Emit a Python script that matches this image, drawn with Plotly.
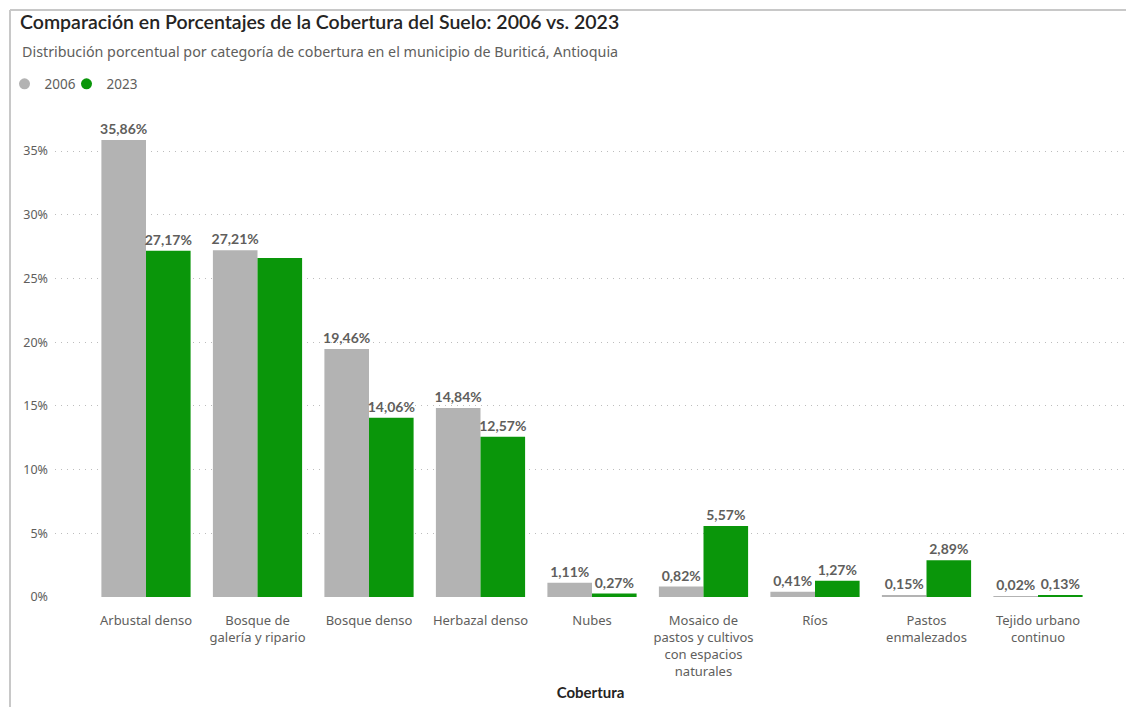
import plotly.graph_objects as go

categories = ["Arbustal denso", "Bosque de<br>galería y ripario", "Bosque denso", "Herbazal denso",
              "Nubes", "Mosaico de<br>pastos y cultivos<br>con espacios<br>naturales", "Ríos",
              "Pastos<br>enmalezados", "Tejido urbano<br>continuo"]
values_2006 = [35.86, 27.21, 19.46, 14.84, 1.11, 0.82, 0.41, 0.15, 0.02]
values_2023 = [27.17, 26.60, 14.06, 12.57, 0.27, 5.57, 1.27, 2.89, 0.13]
hidden_2023_labels = [1]  # label not displayed in the original (overlap)
y_ticks = [0, 5, 10, 15, 20, 25, 30, 35]

GRAY = "#B3B3B3"
GREEN = "#0A960A"
TFONT = "Lato"
FONT = "Noto Sans"

W, H = 1126, 707
L, R, T, B = 55, 0, 120, 110
PW, PH = W - L - R, H - T - B

def px_x(x):
    return (x - L) / PW

def px_y(y):
    return (H - B - y) / PH

def fmt(v):
    return f"{v:.2f}".replace(".", ",") + "%"

text_2006 = [fmt(v) for v in values_2006]
text_2023 = ["" if i in hidden_2023_labels else fmt(v) for i, v in enumerate(values_2023)]

fig = go.Figure()
series = [("2006", values_2006, text_2006, GRAY, "legend"), ("2023", values_2023, text_2023, GREEN, "legend2")]
for name, vals, txt, col, lg in series:
    fig.add_trace(go.Bar(
        x=list(range(len(categories))), y=vals, name=name, marker=dict(color=col, line=dict(width=0)),
        text=txt, textposition="outside", constraintext="none", cliponaxis=False,
        textfont=dict(family=TFONT, size=14, color="#605E5C", weight="bold"),
        showlegend=False, legendgroup=name,
    ))
    fig.add_trace(go.Scatter(
        x=[None], y=[None], mode="markers", name=name, legendgroup=name, legend=lg,
        marker=dict(symbol="circle", size=11, color=col),
    ))

legend_common = dict(orientation="h", xref="container", yref="container", xanchor="left",
                     y=1 - 84 / H, yanchor="middle", font=dict(family=FONT, size=13.5, color="#605E5C"),
                     itemwidth=30, bgcolor="rgba(0,0,0,0)")

fig.update_layout(
    width=W, height=H,
    margin=dict(l=L, r=R, t=T, b=B, autoexpand=False),
    paper_bgcolor="white", plot_bgcolor="white",
    barmode="group", bargap=0.2, bargroupgap=0,
    font=dict(family=FONT, color="#605E5C", size=13),
    title=dict(text="Comparación en Porcentajes de la Cobertura del Suelo: 2006 vs. 2023",
               x=20 / W, xanchor="left", xref="container", y=1 - 22 / H, yanchor="middle",
               yref="container", font=dict(family=TFONT, size=19.5, color="#252423", weight=600)),
    legend=dict(x=0.004, **legend_common),
    legend2=dict(x=0.004 + 62 / W, **legend_common),
    annotations=[dict(text="Distribución porcentual por categoría de cobertura en el municipio de Buriticá, Antioquia",
                      xref="paper", yref="paper", x=px_x(20), y=px_y(51), xanchor="left",
                      yanchor="middle", showarrow=False,
                      font=dict(family=FONT, size=14.3, color="#605E5C"))],
    shapes=[
        dict(type="line", xref="paper", yref="paper", x0=px_x(10), x1=px_x(W + 5), y0=px_y(10), y1=px_y(10),
             line=dict(color="#C8C8C8", width=2)),
        dict(type="line", xref="paper", yref="paper", x0=px_x(10), x1=px_x(10), y0=px_y(10), y1=px_y(H + 5),
             line=dict(color="#C8C8C8", width=2)),
    ],
)
fig.update_yaxes(range=[0, (H - B - T) / ((597 - 151) / 35)], tickvals=y_ticks,
                 ticktext=[f"{t}%" for t in y_ticks],
                 showgrid=True, gridcolor="#BDBDBD", griddash="1px,5px", gridwidth=1,
                 zeroline=False, showline=False, ticklabelstandoff=6,
                 tickfont=dict(family=FONT, size=12.5, color="#605E5C"))
fig.update_xaxes(range=[-(146 - L) / 111.5, (W - R - 146) / 111.5],
                 tickvals=list(range(len(categories))), ticktext=categories,
                 showgrid=False, showline=False, ticks="", ticklabelstandoff=14,
                 tickfont=dict(family=FONT, size=13, color="#605E5C"),
                 title=dict(text="Cobertura", standoff=8,
                            font=dict(family=TFONT, size=15, color="#252423", weight="bold")))

fig.write_html("out.html")
